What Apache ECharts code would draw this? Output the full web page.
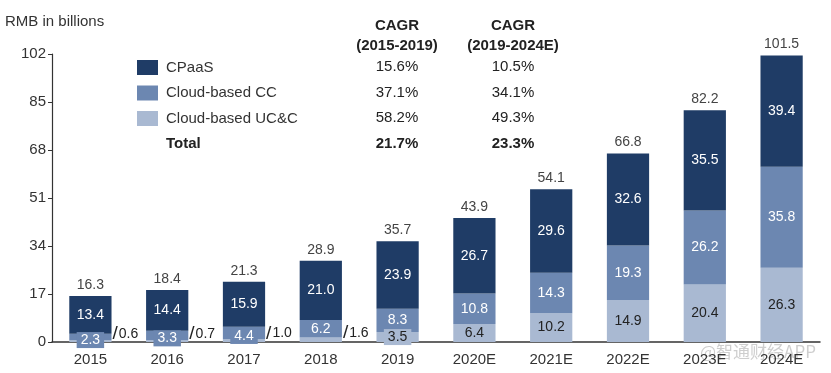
<!DOCTYPE html>
<html><head><meta charset="utf-8">
<script src="https://cdn.jsdelivr.net/npm/echarts@6/dist/echarts.min.js"></script>
<style>html,body{margin:0;padding:0;background:#fff}#c{width:831px;height:373px}</style>
</head><body><div id="c"></div>
<script>
const categories = ['2015','2016','2017','2018','2019','2020E','2021E','2022E','2023E','2024E'];
const ucc   = [0.6, 0.7, 1.0, 1.6, 3.5, 6.4, 10.2, 14.9, 20.4, 26.3];
const cc    = [2.3, 3.3, 4.4, 6.2, 8.3, 10.8, 14.3, 19.3, 26.2, 35.8];
const cpaas = [13.4, 14.4, 15.9, 21.0, 23.9, 26.7, 29.6, 32.6, 35.5, 39.4];
const totals = [16.3, 18.4, 21.3, 28.9, 35.7, 43.9, 54.1, 66.8, 82.2, 101.5];
const yTicks = [0, 17, 34, 51, 68, 85, 102];
const seriesNames = ['CPaaS', 'Cloud-based CC', 'Cloud-based UC&C'];
const cagrHeaders = [['CAGR', '(2015-2019)'], ['CAGR', '(2019-2024E)']];
const cagr1519 = ['15.6%', '37.1%', '58.2%', '21.7%'];
const cagr1924 = ['10.5%', '34.1%', '49.3%', '23.3%'];
const totalLabel = 'Total';

const FONT = "'Liberation Sans', Arial, sans-serif";
const C_DARK = '#1f3c66', C_MID = '#6c87b1', C_LIGHT = '#a9b9d2';

const uccData = ucc.map((v, i) => {
  if (v < 2) {
    return { value: v, label: { show: true, position: 'right', offset: [1, -7], distance: 0,
      formatter: '{s|/}{t|' + v.toFixed(1) + '}',
      rich: { s: { fontSize: 19, color: '#222', fontFamily: FONT, padding:[0,1,0,0] },
              t: { fontSize: 14, color: '#222', fontFamily: FONT } } } };
  }
  if (v < 5) {
    return { value: v, label: { show: true, position: 'inside', color: '#222', backgroundColor: C_LIGHT, padding: [1, 4] } };
  }
  return v;
});
const ccData = cc.map((v) => {
  if (v < 5) return { value: v, label: { show: true, position: 'inside', color: '#fff', backgroundColor: C_MID, padding: [1, 4], offset:[0,3] } };
  return v;
});

const chart = echarts.init(document.getElementById('c'));
const tableGraphics = [];
const col1 = 397, col2 = 513;
[col1, col2].forEach((x, k) => {
  tableGraphics.push({ type: 'text', x: x, y: 26, style: { text: cagrHeaders[k][0], font: 'bold 15px ' + FONT, fill: '#222', align: 'center', verticalAlign: 'middle' } });
  tableGraphics.push({ type: 'text', x: x, y: 46, style: { text: cagrHeaders[k][1], font: 'bold 15px ' + FONT, fill: '#222', align: 'center', verticalAlign: 'middle' } });
});
const rowY = [67, 93, 118, 144];
rowY.forEach((y, r) => {
  const bold = r === 3 ? 'bold ' : '';
  tableGraphics.push({ type: 'text', x: col1, y: y, style: { text: cagr1519[r], font: bold + '15px ' + FONT, fill: '#222', align: 'center', verticalAlign: 'middle' } });
  tableGraphics.push({ type: 'text', x: col2, y: y, style: { text: cagr1924[r], font: bold + '15px ' + FONT, fill: '#222', align: 'center', verticalAlign: 'middle' } });
});
tableGraphics.push({ type: 'text', x: 166, y: 144, style: { text: totalLabel, font: 'bold 15px ' + FONT, fill: '#222', verticalAlign: 'middle' } });
tableGraphics.push({ type: 'text', x: 5, y: 22, style: { text: 'RMB in billions', font: '15px ' + FONT, fill: '#333', verticalAlign: 'middle' } });
tableGraphics.push({ type: 'text', x: 700, y: 352, style: { text: '@智通财经APP', font: '17px "Noto Sans CJK SC", sans-serif', fill: 'rgba(190,190,190,0.75)', verticalAlign: 'middle' } });

chart.setOption({
  animation: false,
  textStyle: { fontFamily: FONT },
  grid: { left: 52, right: 11, top: 54, bottom: 31, containLabel: false },
  legend: {
    data: seriesNames, orient: 'vertical', left: 132, top: 55,
    itemWidth: 21, itemHeight: 15, itemGap: 10.5, icon: 'rect',
    textStyle: { fontSize: 15, color: '#333', fontFamily: FONT, padding: [0,0,0,3] },
    selectedMode: false
  },
  graphic: tableGraphics,
  xAxis: {
    type: 'category', data: categories,
    axisLine: { lineStyle: { color: '#333', width: 1.5 } },
    axisTick: { show: false },
    axisLabel: { fontSize: 15, color: '#333', margin: 10 }
  },
  yAxis: {
    type: 'value', min: yTicks[0], max: yTicks[yTicks.length - 1], interval: 17,
    splitLine: { show: false },
    axisLine: { show: true, lineStyle: { color: '#333', width: 1.2 } },
    axisTick: { show: true, length: 4, lineStyle: { color: '#333' } },
    axisLabel: { fontSize: 15, color: '#333', margin: 6 }
  },
  series: [
    { name: 'Cloud-based UC&C', type: 'bar', stack: 't', barWidth: '55%', data: uccData,
      itemStyle: { color: C_LIGHT },
      label: { show: true, position: 'inside', fontSize: 14, color: '#222' } },
    { name: 'Cloud-based CC', type: 'bar', stack: 't', data: ccData,
      itemStyle: { color: C_MID },
      label: { show: true, position: 'inside', fontSize: 14, color: '#fff' } },
    { name: 'CPaaS', type: 'bar', stack: 't', data: cpaas,
      itemStyle: { color: C_DARK },
      label: { show: true, position: 'inside', fontSize: 14, color: '#fff', formatter: (p) => p.value.toFixed(1) } },
    { name: 'totalLbl', type: 'bar', stack: 't', data: totals.map(() => 0), itemStyle: { color: 'transparent' },
      label: { show: true, position: 'top', distance: 4, fontSize: 14, color: '#444',
        formatter: (p) => totals[p.dataIndex].toFixed(1) }, tooltip: { show: false } }
  ]
});
</script></body></html>
